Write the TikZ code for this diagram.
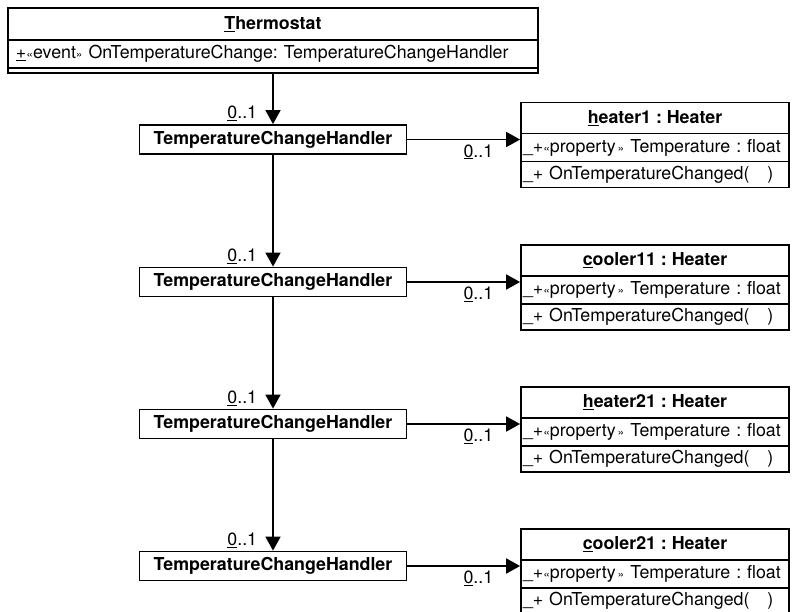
\documentclass[tikz,border=0pt]{standalone}
\usepackage{fontspec}
\setmainfont{TeX Gyre Heros}
\usetikzlibrary{arrows.meta,positioning}
\frenchspacing

\begin{document}
\begin{tikzpicture}[
  x=1pt, y=-1pt, line width=1.8pt,
  font=\fontsize{17.8}{20}\selectfont,
  box/.style    ={draw, inner sep=0pt},
  ttl/.style    ={box, font=\fontsize{17.8}{20}\selectfont\bfseries},
  row/.style    ={box, inner xsep=2pt, align=left},
  hdl/.style    ={box, minimum width=267pt, minimum height=29pt, font=\fontsize{17.8}{20}\selectfont\bfseries},
  objt/.style   ={ttl, minimum width=268pt, minimum height=31pt},
  objp/.style   ={row, text width=264pt, minimum height=28pt},
  objm/.style   ={row, text width=264pt, minimum height=26pt},
  mult/.style   ={inner sep=1pt},
  arr/.style    ={-{Triangle[length=14pt,width=15pt]}, line width=1.8pt}]
  \useasboundingbox (0,0) rectangle (793,611);
  % class
  \node[ttl, minimum width=530pt, minimum height=32pt] (th) at (273,24) {\underline{T}hermostat};
  \node[row, inner xsep=8pt, text width=514pt, minimum height=28pt] (tha) at (273,54)
    {\mbox{\underline{+}{\fontsize{12}{12}\selectfont«}event{\fontsize{12}{12}\selectfont»} OnTemperatureChange: TemperatureChangeHandler}};
  \node[box, minimum width=530pt, minimum height=5pt] (thb) at (273,70.5) {};
  % handlers
  \node[hdl] (h1) at (273,139.5) {TemperatureChangeHandler};
  \node[hdl] (h2) at (273,282)   {TemperatureChangeHandler};
  \node[hdl] (h3) at (273,424)   {TemperatureChangeHandler};
  \node[hdl] (h4) at (273,566)   {TemperatureChangeHandler};
  % objects
  \node[objt] (o1t) at (655,118)   {\underline{h}eater1 : Heater};
  \node[objp] (o1p) at (655,147.5) {\mbox{\_+{\fontsize{12}{12}\selectfont«}property{\fontsize{12}{12}\selectfont\,»} Temperature : float}};
  \node[objm] (o1m) at (655,174.5) {\_+\ OnTemperatureChanged(\ \ \ )};
  \node[objt] (o2t) at (655,260.5) {\underline{c}ooler11 : Heater};
  \node[objp] (o2p) at (655,290)   {\mbox{\_+{\fontsize{12}{12}\selectfont«}property{\fontsize{12}{12}\selectfont\,»} Temperature : float}};
  \node[objm] (o2m) at (655,317)   {\_+\ OnTemperatureChanged(\ \ \ )};
  \node[objt] (o3t) at (655,402.5) {\underline{h}eater21 : Heater};
  \node[objp] (o3p) at (655,432)   {\mbox{\_+{\fontsize{12}{12}\selectfont«}property{\fontsize{12}{12}\selectfont\,»} Temperature : float}};
  \node[objm] (o3m) at (655,459)   {\_+\ OnTemperatureChanged(\ \ \ )};
  \node[objt] (o4t) at (655,544.5) {\underline{c}ooler21 : Heater};
  \node[objp] (o4p) at (655,574)   {\mbox{\_+{\fontsize{12}{12}\selectfont«}property{\fontsize{12}{12}\selectfont\,»} Temperature : float}};
  \node[objm] (o4m) at (655,601)   {\_+\ OnTemperatureChanged(\ \ \ )};
  % chain
  \draw[arr] (thb.south) -- (h1.north);
  \draw[arr] (h1.south) -- (h2.north);
  \draw[arr] (h2.south) -- (h3.north);
  \draw[arr] (h3.south) -- (h4.north);
  \node[mult, above left=1pt and 14pt of h1.north] (m1) {\underline{0}..1};
  \node[mult, above left=1pt and 14pt of h2.north] (m2) {\underline{0}..1};
  \node[mult, above left=1pt and 14pt of h3.north] (m3) {\underline{0}..1};
  \node[mult, above left=1pt and 14pt of h4.north] (m4) {\underline{0}..1};
  % handler -> object
  \draw[arr] (h1.east) -- (h1.east -| o1p.west) node[mult, pos=1, below left=3pt and 25pt] (n1) {\underline{0}..1};
  \draw[arr] (h2.east) -- (h2.east -| o2p.west) node[mult, pos=1, below left=3pt and 25pt] (n2) {\underline{0}..1};
  \draw[arr] (h3.east) -- (h3.east -| o3p.west) node[mult, pos=1, below left=3pt and 25pt] (n3) {\underline{0}..1};
  \draw[arr] (h4.east) -- (h4.east -| o4p.west) node[mult, pos=1, below left=3pt and 25pt] (n4) {\underline{0}..1};
\end{tikzpicture}
\end{document}
